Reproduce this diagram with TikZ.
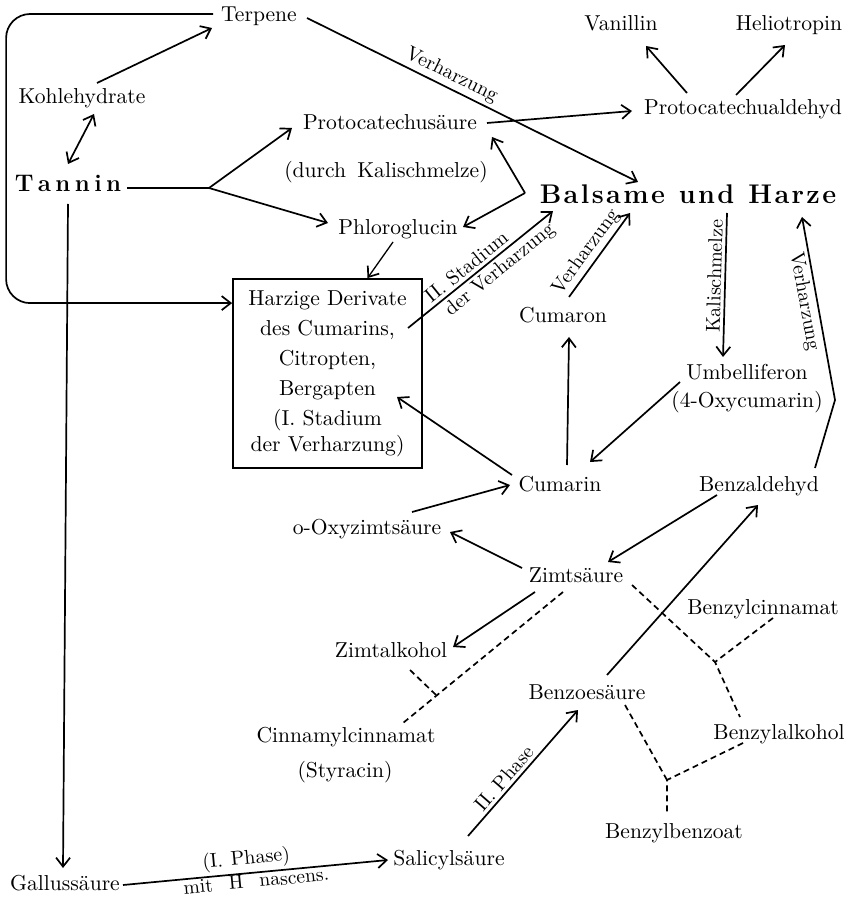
\documentclass[tikz,border=0pt]{standalone}
\usetikzlibrary{arrows.meta,calc}
\begin{document}
\begin{tikzpicture}[x=0.5pt,y=-0.5pt,
  txt/.style={font=\fontsize{10.8}{13}\selectfont, inner sep=1pt, text height=8pt, text depth=1pt},
  txtm/.style={font=\fontsize{10.8}{14}\selectfont, inner sep=1pt, align=center},
  lab/.style={font=\fontsize{10}{12}\selectfont, inner sep=1.5pt},
  con/.style={line width=0.85pt},
  arr/.style={con, -{Straight Barb[length=4.5pt,width=7pt,line width=0.85pt]}},
  darr/.style={con, {Straight Barb[length=4.5pt,width=7pt,line width=0.85pt]}-{Straight Barb[length=4.5pt,width=7pt,line width=0.85pt]}},
  dsh/.style={line width=0.85pt, dash pattern=on 3pt off 2pt}]
\useasboundingbox (0,0) rectangle (851,897);

% nodes
\node[txt] (terpene) at (259,15) {Terpene};
\node[txt] (kohle) at (82,97) {Kohlehydrate};
\node[font=\fontsize{12}{14}\selectfont\bfseries, inner sep=1pt, text height=8.5pt, text depth=1pt] (tannin) at (68,184)
  {T\kern2.2pt a\kern2.2pt n\kern2.2pt n\kern2.2pt i\kern2.2pt n};
\node[txt] (proto) at (390,123) {Protocatechusäure};
\node[txt] (durch) at (386,171) {(durch\hspace{2pt} Kalischmelze)};
\node[txt] (phloro) at (398,228) {Phloroglucin};
\node[font=\fontsize{13.5}{16}\selectfont\bfseries, inner sep=1pt, text height=9.5pt, text depth=1pt] (balsame) at (688,195)
  {B\kern1.2pt a\kern1.2pt l\kern1.2pt s\kern1.2pt a\kern1.2pt m\kern1.2pt e\hspace{7pt}u\kern1.2pt n\kern1.2pt d\hspace{7pt}H\kern1.2pt a\kern1.2pt r\kern1.2pt z\kern1.2pt e};
\node[txt] (aldehyd) at (743,108) {Protocatechualdehyd};
\node[txt] (vanillin) at (621,24) {Vanillin};
\node[txt] (helio) at (789,24) {Heliotropin};
\node[draw, line width=0.9pt, minimum width=94.5pt, minimum height=94.5pt, inner sep=0pt,
      font=\fontsize{10.8}{15}\selectfont, align=center] (box) at (327.5,373.5)
  {Harzige Derivate\\des Cumarins,\\Citropten,\\Bergapten\\(I. Stadium\\[-2pt]der Verharzung)};
\node[txt] (cumaron) at (563,315) {Cumaron};
\node[txtm] (umbell) at (747,389) {Umbelliferon\\(4-Oxycumarin)};
\node[txt] (cumarin) at (560,484) {Cumarin};
\node[txt] (benzald) at (759,484) {Benzaldehyd};
\node[txt] (oxyzimt) at (367,527) {o-Oxyzimtsäure};
\node[txt] (zimt) at (576,575) {Zimtsäure};
\node[txt] (zimtalk) at (391,650) {Zimtalkohol};
\node[txt] (benzcin) at (763,607) {Benzylcinnamat};
\node[txt] (benzoe) at (587,692) {Benzoesäure};
\node[txt] (cinnam) at (346,735) {Cinnamylcinnamat};
\node[txt] (styr) at (345,770) {(Styracin)};
\node[txt] (benzalk) at (779,732) {Benzylalkohol};
\node[txt] (benzbz) at (674,831) {Benzylbenzoat};
\node[txt] (gallus) at (65,883) {Gallussäure};
\node[txt] (salicyl) at (449,858) {Salicylsäure};

% connectors
\draw[arr] ($(terpene)+(48,3)$) -- node[lab, pos=0.42, sloped, above] {Verharzung} ($(balsame)+(-50,-13)$);
\draw[arr, rounded corners=12pt] ($(terpene)+(-46,-1)$) -| ($(box.north west)+(-226,25)$) -- ($(box.north west)+(0,25)$);
\draw[arr] ($(kohle)+(15,-14)$) -- ($(terpene)+(-47,13)$);
\draw[darr] ($(kohle)+(12,17)$) -- ($(tannin)+(0,-20)$);
\coordinate (fork1) at ($(tannin)+(141,4)$);
\draw[con] ($(tannin)+(59,4)$) -- (fork1);
\draw[arr] (fork1) -- ($(proto)+(-98,5)$);
\draw[arr] (fork1) -- ($(phloro)+(-70,-5)$);
\draw[arr] ($(tannin)+(0,20)$) -- ($(gallus)+(-2,-15)$);
\draw[arr] ($(proto)+(97,0)$) -- ($(aldehyd)+(-111,3)$);
\draw[arr] ($(aldehyd)+(-56,-15)$) -- ($(vanillin)+(25,22)$);
\draw[arr] ($(aldehyd)+(-7,-13)$) -- ($(helio)+(-4,21)$);
\coordinate (fork2) at ($(balsame)+(-163,-2)$);
\draw[arr] (fork2) -- ($(proto)+(102,14)$);
\draw[arr] (fork2) -- ($(phloro)+(65,-1)$);
\draw[arr, line width=0.65pt] ($(phloro)+(-5,14)$) -- ($(box.north)+(40,0)$);
\draw[arr] ($(box)+(80.5,-45.5)$) -- node[lab, pos=0.45, sloped, above] {II.\ Stadium} node[lab, pos=0.58, sloped, below] {der Verharzung} ($(balsame)+(-135,16)$);
\draw[arr] ($(cumaron)+(6,-18)$) -- node[lab, pos=0.45, sloped, above] {Verharzung} ($(balsame)+(-58,18)$);
\draw[arr] ($(balsame)+(39,18)$) -- node[lab, pos=0.44, sloped, above] {Kalischmelze} ($(umbell)+(-24,-32)$);
\draw[arr] ($(benzald)+(56,-16)$) -- ($(benzald)+(76,-84)$) -- node[lab, pos=0.55, sloped, below] {Verharzung} ($(balsame)+(114,22)$);
\draw[arr] ($(umbell)+(-67,-7)$) -- ($(cumarin)+(30,-22)$);
\draw[arr] ($(cumarin)+(7,-19)$) -- ($(cumaron)+(6,22)$);
\draw[arr] ($(cumarin)+(-48,-9)$) -- ($(box)+(69.5,23.5)$);
\draw[arr] ($(oxyzimt)+(45,-15)$) -- ($(cumarin)+(-50,1)$);
\draw[arr] ($(zimt)+(-54,-7)$) -- ($(oxyzimt)+(83,5)$);
\draw[arr] ($(zimt)+(-41,17)$) -- ($(zimtalk)+(62,-3)$);
\draw[arr] ($(benzald)+(-42,11)$) -- ($(zimt)+(32,-13)$);
\draw[arr] ($(benzoe)+(20,-17)$) -- ($(benzald)+(-1,21)$);
\draw[arr] ($(salicyl)+(19,-22)$) -- node[lab, pos=0.4, sloped, above] {II.\ Phase} ($(benzoe)+(-9,18)$);
\draw[arr] ($(gallus)+(58,2)$) -- node[lab, pos=0.47, sloped, above] {(I.\hspace{4pt}Phase)} node[lab, font=\fontsize{9.8}{11}\selectfont, inner sep=0pt, pos=0.5, sloped, below=0.3pt] {mit\hspace{8pt}H\hspace{8pt}nascens.} ($(salicyl)+(-61,2)$);

% dashed relations
\draw[dsh] ($(zimt)+(-13,17)$) -- coordinate[pos=0.79] (j0) ($(cinnam)+(57,-12)$);
\draw[dsh] ($(zimtalk)+(19,20)$) -- (j0);
\coordinate (j1) at ($(benzcin)+(-48,55)$);
\draw[dsh] ($(zimt)+(56,10)$) -- (j1);
\draw[dsh] ($(benzcin)+(10,11)$) -- (j1) -- ($(benzalk)+(-39,-15)$);
\coordinate (j2) at ($(benzbz)+(-7,-51)$);
\draw[dsh] ($(benzoe)+(38,13)$) -- (j2);
\draw[dsh] ($(benzalk)+(-36,11)$) -- (j2) -- ($(benzbz)+(-7,-16)$);
\end{tikzpicture}
\end{document}
